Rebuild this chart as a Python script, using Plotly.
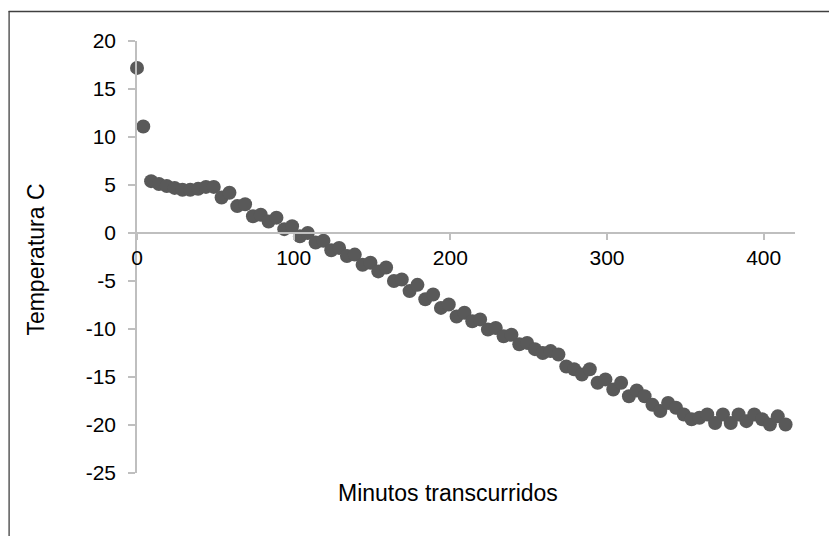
import plotly.graph_objects as go

minutes = [0, 4, 9, 14, 19, 24, 29, 34, 39, 44, 49, 54, 59, 64, 69, 74, 79, 84, 89, 94,
           99, 104, 109, 114, 119, 124, 129, 134, 139, 144, 149, 154, 159, 164, 169, 174,
           179, 184, 189, 194, 199, 204, 209, 214, 219, 224, 229, 234, 239, 244, 249, 254,
           259, 264, 269, 274, 279, 284, 289, 294, 299, 304, 309, 314, 319, 324, 329, 334,
           339, 344, 349, 354, 359, 364, 369, 374, 379, 384, 389, 394, 399, 404, 409, 414]

temperature = [17.2, 11.1, 5.4, 5.1, 4.9, 4.7, 4.5, 4.5, 4.6, 4.8, 4.8, 3.7, 4.2, 2.8, 3.0,
               1.75, 1.9, 1.2, 1.6, 0.4, 0.7, -0.35, 0.0, -1.0, -0.8, -1.8, -1.55, -2.4,
               -2.25, -3.3, -3.1, -4.0, -3.6, -5.0, -4.85, -6.05, -5.4, -6.9, -6.4, -7.8,
               -7.45, -8.7, -8.3, -9.2, -9.0, -10.05, -9.9, -10.75, -10.6, -11.6, -11.45,
               -12.1, -12.5, -12.3, -12.65, -13.9, -14.2, -14.75, -14.2, -15.6, -15.25,
               -16.3, -15.6, -17.0, -16.4, -17.0, -17.9, -18.55, -17.7, -18.2, -18.9,
               -19.4, -19.25, -18.9, -19.8, -18.9, -19.8, -18.9, -19.6, -18.9, -19.4,
               -19.95, -19.1, -19.95]

x_ticks = [0, 100, 200, 300, 400]
y_ticks = [20, 15, 10, 5, 0, -5, -10, -15, -20, -25]

x_title = "Minutos transcurridos"
y_title = "Temperatura C"

FONT = "Liberation Sans, Arial, sans-serif"
AXIS_GRAY = "#BFBFBF"
TICK_SIZE = 21
TITLE_SIZE = 23

W, H = 829, 536
L, R, T, B = 136.5, 34, 41, 63
pw = W - L - R
ph = H - T - B

def px_to_paper_x(px):
    return (px - L) / pw

def px_to_paper_y(py):
    return (H - B - py) / ph

fig = go.Figure()
fig.add_trace(go.Scatter(
    x=minutes, y=temperature, mode="markers",
    marker=dict(size=14, color="#595959", line=dict(width=0)),
    cliponaxis=False, showlegend=False,
))

fig.update_layout(
    width=W, height=H,
    margin=dict(l=L, r=R, t=T, b=B),
    paper_bgcolor="white", plot_bgcolor="white",
    font=dict(family=FONT, size=TICK_SIZE, color="#000000"),
    xaxis=dict(
        range=[0, 420], tickvals=x_ticks, ticktext=[str(v) for v in x_ticks],
        showgrid=False, zeroline=False, showline=True, linecolor=AXIS_GRAY, linewidth=1.5,
        ticks="outside", ticklen=6, tickcolor=AXIS_GRAY, tickwidth=1.5,
        anchor="free", position=25 / 45,
        tickfont=dict(family=FONT, size=TICK_SIZE, color="#000000"),
    ),
    yaxis=dict(
        range=[-25, 20], tickvals=y_ticks, ticktext=[str(v) for v in y_ticks],
        showgrid=False, zeroline=False, showline=True, linecolor=AXIS_GRAY, linewidth=1.5,
        ticks="outside", ticklen=7, tickcolor=AXIS_GRAY, tickwidth=1.5,
        ticklabelstandoff=8,
        tickfont=dict(family=FONT, size=TICK_SIZE, color="#000000"),
    ),
    annotations=[
        dict(text=x_title, xref="paper", yref="paper",
             x=px_to_paper_x(448), y=px_to_paper_y(493),
             xanchor="center", yanchor="middle", showarrow=False,
             font=dict(family=FONT, size=TITLE_SIZE, color="#000000")),
        dict(text=y_title, xref="paper", yref="paper",
             x=px_to_paper_x(35), y=px_to_paper_y(260),
             xanchor="center", yanchor="middle", textangle=-90, showarrow=False,
             font=dict(family=FONT, size=TITLE_SIZE, color="#000000")),
    ],
    shapes=[
        dict(type="line", xref="paper", yref="paper",
             x0=px_to_paper_x(8), x1=px_to_paper_x(840),
             y0=px_to_paper_y(11.5), y1=px_to_paper_y(11.5),
             line=dict(color="#404040", width=1.3)),
        dict(type="line", xref="paper", yref="paper",
             x0=px_to_paper_x(8.5), x1=px_to_paper_x(8.5),
             y0=px_to_paper_y(11), y1=px_to_paper_y(545),
             line=dict(color="#404040", width=1.3)),
    ],
)

fig.write_html("out.html")
